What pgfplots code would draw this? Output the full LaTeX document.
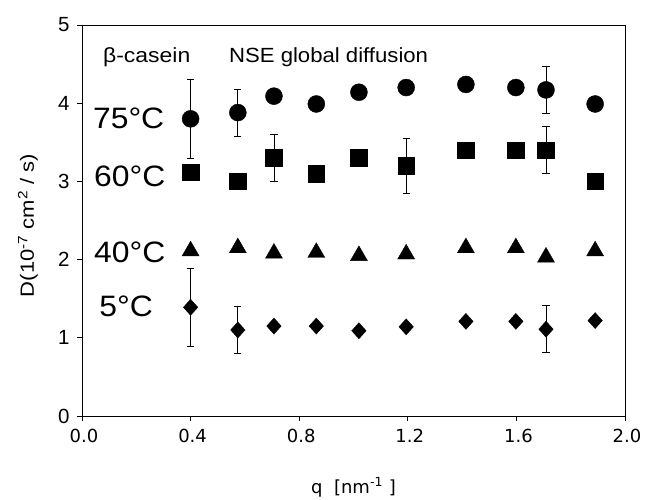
\documentclass[border=0pt]{standalone}
\usepackage{fontspec}
\setmainfont{Liberation Sans}
\newfontfamily\xfont{DejaVu Sans}
\usepackage{pgfplots}
\usepackage{pgfplotstable}
\pgfplotsset{compat=1.18}

\pgfplotstableread{
q D e
0.400 3.80 0.50
0.574 3.88 0.30
0.707 4.09 0
0.863 3.99 0
1.020 4.14 0
1.194 4.20 0
1.414 4.24 0
1.598 4.20 0
1.709 4.17 0.30
1.890 3.99 0
}\tseventyfive
\pgfplotstableread{
q D e
0.400 3.12 0
0.574 3.00 0
0.707 3.30 0.30
0.863 3.10 0
1.020 3.30 0
1.194 3.20 0.35
1.414 3.40 0
1.598 3.40 0
1.709 3.40 0.30
1.890 3.00 0
}\tsixty
\pgfplotstableread{
q D e
0.400 2.11 0
0.574 2.15 0
0.707 2.08 0
0.863 2.09 0
1.020 2.05 0
1.194 2.07 0
1.414 2.15 0
1.598 2.15 0
1.709 2.03 0
1.890 2.11 0
}\tforty
\pgfplotstableread{
q D e
0.400 1.39 0.50
0.574 1.10 0.30
0.707 1.15 0
0.863 1.15 0
1.020 1.09 0
1.194 1.14 0
1.414 1.21 0
1.598 1.21 0
1.709 1.11 0.30
1.890 1.22 0
}\tfive

\begin{document}
\begin{tikzpicture}
\begin{axis}[
  name=ax,
  scale only axis, width=543pt, height=391pt,
  xmin=0, xmax=2, ymin=0, ymax=5,
  xtick={0,0.4,0.8,1.2,1.6,2.0}, ytick={0,1,2,3,4,5},
  /pgf/number format/assume math mode=true,
  xticklabel style={font=\xfont\fontsize{18}{18}\selectfont, yshift=-5pt, xshift=2pt,
    /pgf/number format/.cd, fixed, fixed zerofill, precision=1},
  yticklabel style={font=\fontsize{20.5}{20.5}\selectfont, xshift=-4pt},
  tick align=outside, xtick pos=bottom, ytick pos=left,
  major tick length=5pt,
  axis line style={line width=0.8pt},
  tick style={line width=0.8pt, black},
  xlabel={\xfont\fontsize{18}{18}\selectfont q\ \ [nm\textsuperscript{-1} ]},
  ylabel={\fontsize{22}{22}\selectfont D(10\textsuperscript{-7} cm\textsuperscript{2} / s)},
  xlabel style={at={(axis description cs:0.5,-0.182)}, anchor=center},
  ylabel style={at={(axis description cs:-0.0994,0.487)}, anchor=center, yscale=0.87},
  clip=false,
  error bars/y dir=both, error bars/y explicit,
  error bars/error mark=-,
  error bars/error bar style={line width=0.8pt, black},
  error bars/error mark options={line width=0.8pt, black, mark size=3.6pt, rotate=90},
]
\addplot[only marks, mark=*, mark size=8.5pt, black] table[x=q, y=D, y error=e] {\tseventyfive};
\addplot[only marks, mark=square*, mark size=8.3pt, black] table[x=q, y=D, y error=e] {\tsixty};
\addplot[only marks, mark=triangle*, mark size=9.8pt, black] table[x=q, y=D, y error=e] {\tforty};
\addplot[only marks, mark=diamond*, mark size=8pt, mark options={xscale=1.2}, black] table[x=q, y=D, y error=e] {\tfive};

\node[anchor=west, font=\fontsize{20.5}{20.5}\selectfont, inner sep=0pt, xscale=1.12] at (axis cs:0.077,4.59) {β-casein};
\node[anchor=west, font=\fontsize{20.5}{20.5}\selectfont, inner sep=0pt, xscale=1.08] at (axis cs:0.541,4.59) {NSE global diffusion};
\node[anchor=west, font=\fontsize{29.5}{29.5}\selectfont, inner sep=0pt, xscale=1.08] at (axis cs:0.040,3.80) {75°C};
\node[anchor=west, font=\fontsize{29.5}{29.5}\selectfont, inner sep=0pt, xscale=1.08] at (axis cs:0.044,3.07) {60°C};
\node[anchor=west, font=\fontsize{29.5}{29.5}\selectfont, inner sep=0pt, xscale=1.08] at (axis cs:0.044,2.09) {40°C};
\node[anchor=west, font=\fontsize{29.5}{29.5}\selectfont, inner sep=0pt, xscale=1.08] at (axis cs:0.063,1.40) {5°C};
\end{axis}
\pgfresetboundingbox
\path[use as bounding box] ([xshift=-82pt,yshift=-84pt]ax.south west) rectangle ++(645pt,500pt);
\end{tikzpicture}
\end{document}
